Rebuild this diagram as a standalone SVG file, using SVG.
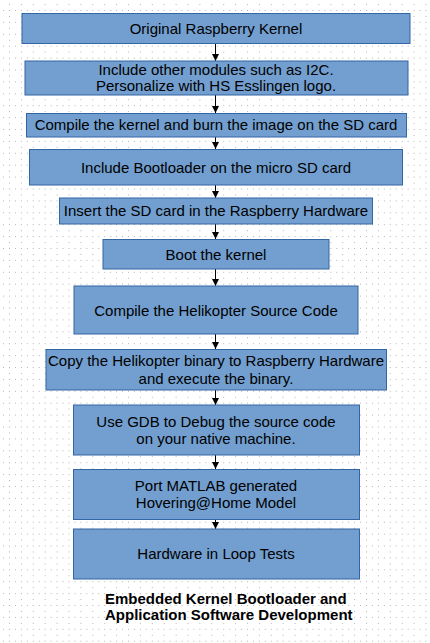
<svg xmlns="http://www.w3.org/2000/svg" width="430" height="643" viewBox="0 0 430 643">
<defs>
<pattern id="grid" patternUnits="userSpaceOnUse" x="9" y="10" width="11.9" height="11.9">
<rect x="0" y="0" width="1" height="1" fill="#b4b4b4"/>
<rect x="5.95" y="0" width="1" height="1" fill="#b4b4b4"/>
<rect x="0" y="5.95" width="1" height="1" fill="#b4b4b4"/>
</pattern>
<marker id="arr" markerUnits="userSpaceOnUse" viewBox="0 0 10 10" refX="10" refY="5" markerWidth="10" markerHeight="7" orient="auto">
<path d="M0,0 L10,5 L0,10 z" fill="#000"/>
</marker>
</defs>
<style>
.box{fill:#729fcf;stroke:#3465a4;stroke-width:1}
.t{font-family:"Liberation Sans",Arial,sans-serif;font-size:15px;fill:#000;text-anchor:middle}
.cap{font-family:"Liberation Sans",Arial,sans-serif;font-size:15px;font-weight:bold;fill:#000}
.conn{stroke:#000;stroke-width:1;fill:none;marker-end:url(#arr)}
</style>
<rect width="430" height="643" fill="#fff"/>
<rect width="430" height="643" fill="url(#grid)"/>
<g id="connectors">
<line class="conn" x1="215.5" y1="43" x2="215.5" y2="61"/>
<line class="conn" x1="215.5" y1="95" x2="215.5" y2="113"/>
<line class="conn" x1="215.5" y1="137" x2="215.5" y2="149"/>
<line class="conn" x1="215.5" y1="185" x2="215.5" y2="198"/>
<line class="conn" x1="215.5" y1="224" x2="215.5" y2="239"/>
<line class="conn" x1="215.5" y1="269" x2="215.5" y2="286"/>
<line class="conn" x1="215.5" y1="334" x2="215.5" y2="349"/>
<line class="conn" x1="215.5" y1="390" x2="215.5" y2="405"/>
<line class="conn" x1="215.5" y1="455" x2="215.5" y2="469"/>
<line class="conn" x1="215.5" y1="519" x2="215.5" y2="529"/>
</g>
<g id="n1"><rect class="box" x="22" y="13.5" width="388" height="30"/><text class="t" x="216" y="34">Original Raspberry Kernel</text></g>
<g id="n2"><rect class="box" x="25" y="61" width="383" height="34"/><text class="t" x="216" y="74.5">Include other modules such as I2C.</text><text class="t" x="216" y="90.5">Personalize with HS Esslingen logo.</text></g>
<g id="n3"><rect class="box" x="26.5" y="113.5" width="380" height="23.5"/><text class="t" x="216" y="130">Compile the kernel and burn the image on the SD card</text></g>
<g id="n4"><rect class="box" x="29.5" y="149.5" width="373" height="35.5"/><text class="t" x="216" y="172.5">Include Bootloader on the micro SD card</text></g>
<g id="n5"><rect class="box" x="59.5" y="198" width="313" height="26"/><text class="t" x="216" y="216">Insert the SD card in the Raspberry Hardware</text></g>
<g id="n6"><rect class="box" x="103" y="239.5" width="226" height="29.5"/><text class="t" x="216" y="260">Boot the kernel</text></g>
<g id="n7"><rect class="box" x="74" y="286" width="284" height="48"/><text class="t" x="216" y="315.5">Compile the Helikopter Source Code</text></g>
<g id="n8"><rect class="box" x="46" y="349.5" width="340.5" height="40.5"/><text class="t" x="216" y="366">Copy the Helikopter binary to Raspberry Hardware</text><text class="t" x="216" y="383.5">and execute the binary.</text></g>
<g id="n9"><rect class="box" x="73.5" y="405" width="286" height="50"/><text class="t" x="216" y="427">Use GDB to Debug the source code</text><text class="t" x="216" y="444">on your native machine.</text></g>
<g id="n10"><rect class="box" x="73.5" y="469.5" width="286" height="50"/><text class="t" x="216" y="491">Port MATLAB generated </text><text class="t" x="216" y="507.5">Hovering@Home Model</text></g>
<g id="n11"><rect class="box" x="73.5" y="529" width="286" height="50"/><text class="t" x="216" y="559">Hardware in Loop Tests</text></g>
<g id="caption"><text class="cap" x="105" y="603.5">Embedded Kernel Bootloader and</text><text class="cap" x="105" y="620">Application Software Development</text></g>
</svg>
